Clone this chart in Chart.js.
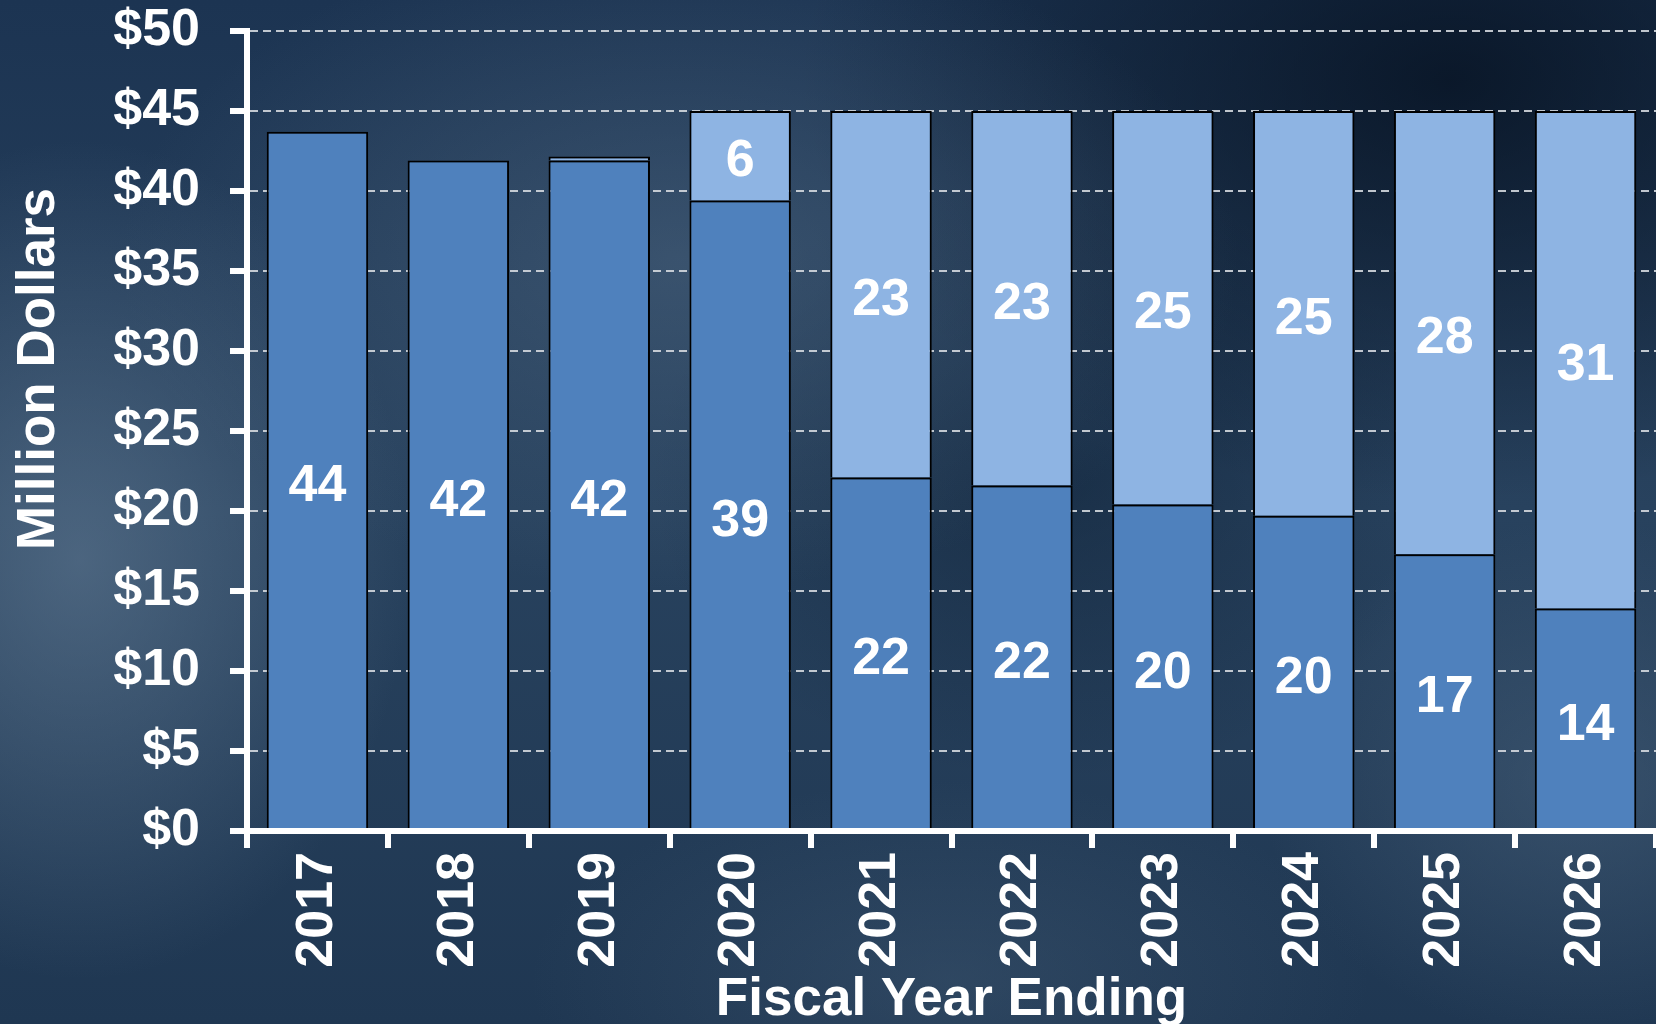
<!DOCTYPE html>
<html>
<head>
<meta charset="utf-8">
<script src="https://cdn.jsdelivr.net/npm/chart.js@4.4.1/dist/chart.umd.min.js"></script>
<style>
html, body { margin: 0; padding: 0; width: 1656px; height: 1024px; overflow: hidden; }
body {
  background:
    radial-gradient(ellipse 330px 420px at 80px 560px, rgba(105,130,155,0.55), rgba(105,130,155,0) 100%),
    radial-gradient(ellipse 560px 330px at 680px 260px, rgba(90,115,140,0.42), rgba(90,115,140,0) 100%),
    radial-gradient(ellipse 320px 260px at 1580px 780px, rgba(85,110,135,0.40), rgba(85,110,135,0) 100%),
    radial-gradient(ellipse 420px 200px at 950px 980px, rgba(80,105,130,0.30), rgba(80,105,130,0) 100%),
    radial-gradient(ellipse 650px 420px at 1450px 80px, rgba(4,14,28,0.75), rgba(4,14,28,0) 100%),
    radial-gradient(ellipse 400px 300px at 1050px 480px, rgba(8,25,45,0.45), rgba(8,25,45,0) 100%),
    linear-gradient(180deg, #1c3452 0%, #28425e 50%, #1f3752 100%);
}
canvas { display: block; }
</style>
</head>
<body>
<canvas id="c" width="1656" height="1024"></canvas>
<script>
// ---- data ----
const categories = ['2017', '2018', '2019', '2020', '2021', '2022', '2023', '2024', '2025', '2026'];
const baseValues = [43.7, 41.9, 41.9, 39.4, 22.1, 21.6, 20.4, 19.7, 17.3, 13.9];
const addedValues = [0, 0, 0.25, 5.6, 22.9, 23.4, 24.6, 25.3, 27.7, 31.1];
const yTickValues = [0, 5, 10, 15, 20, 25, 30, 35, 40, 45, 50];
const yAxisTitle = 'Million Dollars';
const xAxisTitle = 'Fiscal Year Ending';

const FONT = '"Liberation Sans", Arial, Helvetica, sans-serif';

const barLabels = {
  id: 'barLabels',
  afterDatasetsDraw(chart) {
    const ctx = chart.ctx;
    ctx.save();
    ctx.fillStyle = '#ffffff';
    ctx.font = 'bold 52px ' + FONT;
    ctx.textAlign = 'center';
    ctx.textBaseline = 'middle';
    chart.data.datasets.forEach((ds, di) => {
      const meta = chart.getDatasetMeta(di);
      meta.data.forEach((el, i) => {
        const v = ds.data[i];
        if (v < 1) return;
        const y = (el.y + el.base) / 2 + 6;
        ctx.fillText(String(Math.round(v)), el.x, y);
      });
    });
    ctx.restore();
  }
};

const axisTitles = {
  id: 'axisTitles',
  afterDraw(chart) {
    const ctx = chart.ctx;
    const area = chart.chartArea;
    ctx.save();
    ctx.fillStyle = '#ffffff';
    ctx.font = 'bold 53px ' + FONT;
    ctx.textAlign = 'center';
    ctx.textBaseline = 'alphabetic';
    ctx.fillText(xAxisTitle, (area.left + area.right) / 2, 1015);
    ctx.translate(54, 369);
    ctx.rotate(-Math.PI / 2);
    ctx.fillText(yAxisTitle, 0, 0);
    ctx.restore();
  }
};

new Chart(document.getElementById('c'), {
  type: 'bar',
  data: {
    labels: categories,
    datasets: [
      {
        label: 'Base',
        data: baseValues,
        backgroundColor: '#4f81bd',
        borderColor: '#000000',
        borderWidth: 2,
        barPercentage: 0.72,
        categoryPercentage: 1.0
      },
      {
        label: 'Added',
        data: addedValues,
        backgroundColor: '#8eb4e3',
        borderColor: '#000000',
        borderWidth: 2,
        barPercentage: 0.72,
        categoryPercentage: 1.0
      }
    ]
  },
  options: {
    responsive: false,
    animation: false,
    devicePixelRatio: 1,
    layout: { padding: { top: 31, right: 0, left: 0, bottom: 0 } },
    plugins: {
      legend: { display: false },
      tooltip: { enabled: false },
      title: { display: false }
    },
    scales: {
      x: {
        stacked: true,
        offset: true,
        grid: {
          display: true,
          drawOnChartArea: false,
          drawTicks: true,
          tickLength: 17,
          tickColor: '#ffffff',
          tickWidth: 6,
          lineWidth: 6,
          color: '#ffffff'
        },
        border: { display: true, color: '#ffffff', width: 6, z: 1 },
        ticks: {
          color: '#ffffff',
          font: { family: FONT, size: 52, weight: 'bold' },
          minRotation: 90,
          maxRotation: 90,
          padding: 4,
          autoSkip: false
        },
        afterFit(scale) {
          scale.height = 193;
          scale.paddingLeft = 0; scale.paddingRight = 0;
          scale.paddingTop = 0; scale.paddingBottom = 0;
        }
      },
      y: {
        stacked: true,
        min: 0,
        max: 50,
        afterBuildTicks(scale) {
          scale.ticks = yTickValues.map(v => ({ value: v }));
        },
        grid: {
          color: 'rgba(212,216,222,0.9)',
          lineWidth: 2,
          drawTicks: true,
          tickLength: 17,
          tickColor: '#ffffff',
          tickWidth: 6,
          tickBorderDash: []
        },
        border: { display: true, color: '#ffffff', width: 6, dash: [8, 5], z: 1 },
        ticks: {
          color: '#ffffff',
          font: { family: FONT, size: 52, weight: 'bold' },
          padding: 30,
          callback: (v) => '$' + v
        },
        afterFit(scale) {
          scale.width = 247;
          scale.paddingLeft = 0; scale.paddingRight = 0;
          scale.paddingTop = 0; scale.paddingBottom = 0;
        }
      }
    }
  },
  plugins: [barLabels, axisTitles]
});
</script>
</body>
</html>
